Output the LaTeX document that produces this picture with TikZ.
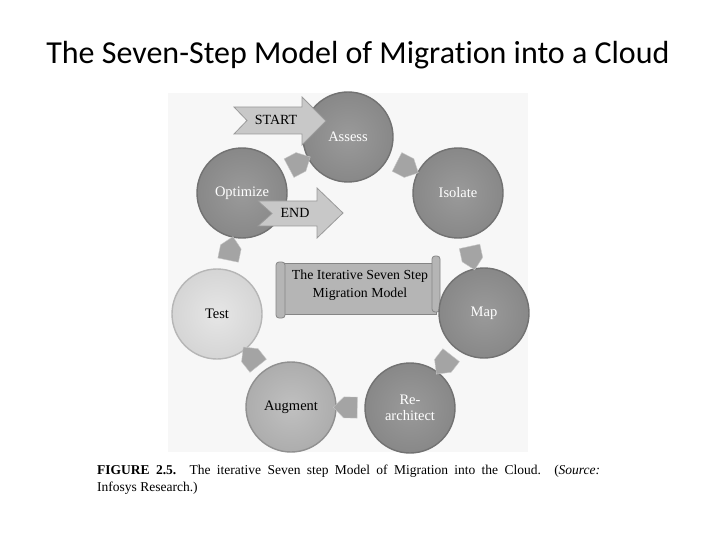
\documentclass[tikz,border=0pt]{standalone}
\usepackage{fontspec}
\setmainfont{Liberation Serif}
\newfontfamily\titlefont[Ligatures=NoCommon]{Carlito}
\usepackage{xcolor}
\usepackage{tikz}
\usetikzlibrary{shapes.arrows}

\definecolor{figbg}{HTML}{F7F7F7}
\definecolor{darkin}{HTML}{9A9A9A}
\definecolor{darkout}{HTML}{888888}
\definecolor{darkrim}{HTML}{727272}
\definecolor{testin}{HTML}{E6E6E6}
\definecolor{testout}{HTML}{D5D5D5}
\definecolor{testrim}{HTML}{B6B6B6}
\definecolor{augin}{HTML}{C0C0C0}
\definecolor{augout}{HTML}{ADADAD}
\definecolor{augrim}{HTML}{909090}
\definecolor{linkgray}{HTML}{A4A4A4}
\definecolor{bigfill}{HTML}{C8C8C8}
\definecolor{bigline}{HTML}{9A9A9A}
\definecolor{scrollfill}{HTML}{B5B5B5}
\definecolor{scrollline}{HTML}{858585}

\begin{document}
\begin{tikzpicture}[
  x=1pt, y=-1pt,
  font=\fontsize{14.5}{16}\selectfont,
  stepnode/.style={circle, minimum size=90pt, inner sep=0pt, align=center, line width=1.4pt},
  darkstep/.style={stepnode, draw=darkrim, inner color=darkin, outer color=darkout, text=white},
  teststep/.style={stepnode, draw=testrim, inner color=testin, outer color=testout},
  augstep/.style={stepnode, draw=augrim, inner color=augin, outer color=augout},
  linkarrow/.style={single arrow, single arrow head extend=0pt, minimum height=24pt, minimum width=21pt, inner sep=0pt, fill=linkgray, draw=linkgray!60!white},
  bigarrow/.style={fill=bigfill, draw=bigline, line width=0.8pt, line join=miter},
  scrollpart/.style={fill=scrollfill, draw=scrollline, line width=0.8pt},
  label/.style={font=\fontsize{14}{16}\selectfont}
]
\fill[white] (0,0) rectangle (720,540);
\useasboundingbox (0,0) rectangle (720,540);
\fill[figbg] (168,93) rectangle (528,452);

\node[font=\titlefont\fontsize{32}{36}\selectfont] (title) at (358,55) {The Seven-Step Model of Migration into a Cloud};

% scroll in the middle
\draw[scrollpart] (281,263) rectangle (436,314);
\draw[scrollpart, rounded corners=3pt] (432,256) rectangle (440,312);
\draw[scrollpart, rounded corners=3pt] (276,262) rectangle (285,318);
\node[align=center, font=\fontsize{13.8}{18}\selectfont] (model) at (360,285) {The Iterative Seven Step\\Migration Model};

% the seven steps
\node[darkstep] (assess) at (348,137) {Assess};
\node[darkstep] (isolate) at (458,193) {Isolate};
\node[darkstep] (map) at (484,313) {Map};
\node[darkstep] (rearch) at (410,408) {Re-\\architect};
\node[augstep] (augment) at (291,407) {Augment};
\node[teststep] (test) at (217,314) {Test};
\node[darkstep] (optimize) at (242,193) {Optimize};

\path (optimize) -- (assess) node[midway, sloped, allow upside down, linkarrow] {};
\path (assess) -- (isolate) node[midway, sloped, allow upside down, linkarrow] {};
\path (isolate) -- (map) node[midway, sloped, allow upside down, linkarrow] {};
\path (map) -- (rearch) node[midway, sloped, allow upside down, linkarrow] {};
\path (rearch) -- (augment) node[midway, sloped, allow upside down, linkarrow] {};
\path (augment) -- (test) node[midway, sloped, allow upside down, linkarrow] {};
\path (test) -- (optimize) node[midway, sloped, allow upside down, linkarrow] {};

% start and end
\draw[bigarrow] (234,107) -- (302,107) -- (302,97) -- (326,121) -- (302,145) -- (302,134) -- (234,134) -- (247,120.5) -- cycle;
\node[label] (start) at (276,120) {START};
\draw[bigarrow] (258,201) -- (317,201) -- (317,188) -- (343,213) -- (317,238) -- (317,226) -- (258,226) -- (272,213.5) -- cycle;
\node[label] (end) at (295,213) {END};

\node[anchor=base west, text width=503pt, align=justify, inner sep=0pt, font=\fontsize{13.5}{17}\selectfont] (caption) at (97,474.5) {\textbf{FIGURE 2.5.} The iterative Seven step Model of Migration into the Cloud. (\textit{Source:}\linebreak Infosys Research.)};
\end{tikzpicture}
\end{document}
